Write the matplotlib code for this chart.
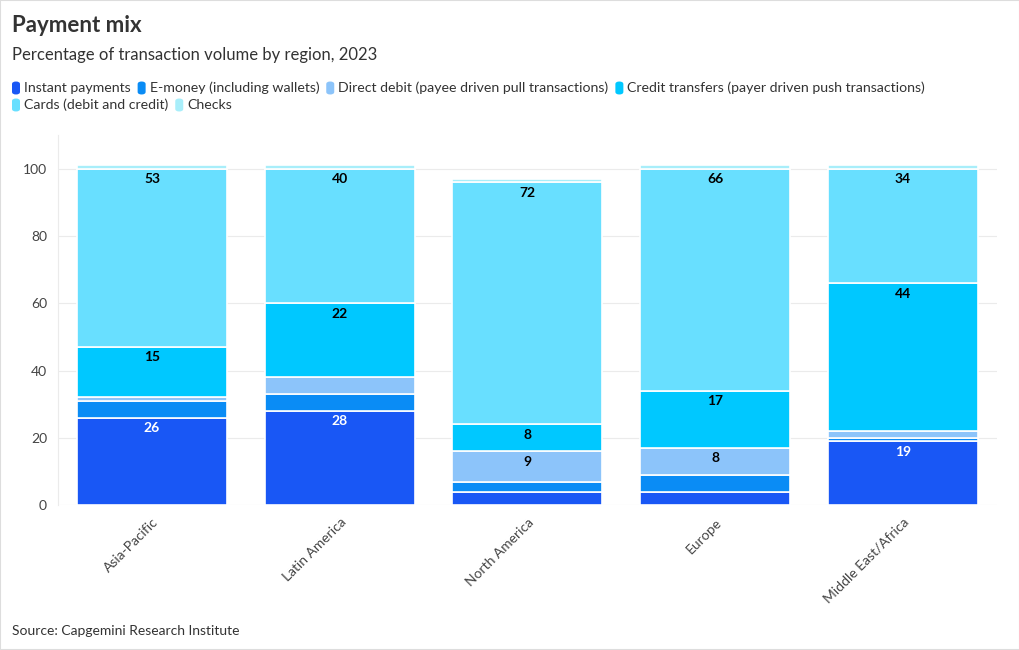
from __future__ import annotations

import numpy as np
from matplotlib import pyplot as plt
from matplotlib.patches import FancyBboxPatch, Rectangle

REGIONS = ["Asia-Pacific", "Latin America", "North America", "Europe", "Middle East/Africa"]

SERIES_NAMES = [
    "Instant payments",
    "E-money (including wallets)",
    "Direct debit (payee driven pull transactions)",
    "Credit transfers (payer driven push transactions)",
    "Cards (debit and credit)",
    "Checks",
]

INSTANT = [26, 28, 4, 4, 19]
E_MONEY = [5, 5, 3, 5, 1]
DIRECT_DEBIT = [1, 5, 9, 8, 2]
CREDIT_TRANSFERS = [15, 22, 8, 17, 44]
CARDS = [53, 40, 72, 66, 34]
CHECKS = [1, 1, 1, 1, 1]

COLORS = ["#1957F5", "#0A8CF5", "#8CC4FA", "#00C8FF", "#68DFFF", "#A8EEFA"]
LABEL_COLORS = ["white", "black", "black", "black", "black", "black"]

FONT = ["Lato", "DejaVu Sans"]


def main() -> None:
    plt.rcParams["font.family"] = FONT
    series = [INSTANT, E_MONEY, DIRECT_DEBIT, CREDIT_TRANSFERS, CARDS, CHECKS]

    fig = plt.figure(figsize=(10.2, 6.5), dpi=100)
    ax = fig.add_axes([0.057, 0.223, 0.92, 0.569])

    x = np.arange(len(REGIONS))
    bottom = np.zeros(len(REGIONS))
    for values, color, lcolor in zip(series, COLORS, LABEL_COLORS):
        vals = np.array(values, dtype=float)
        bars = ax.bar(x, vals, width=0.8, bottom=bottom, color=color,
                      edgecolor="white", linewidth=1.2, zorder=3)
        for bar, v, b in zip(bars, vals, bottom):
            if v >= 6:
                ax.annotate(f"{v:.0f}", xy=(bar.get_x() + bar.get_width() / 2, b + v),
                            xytext=(0, -7.5), textcoords="offset points",
                            ha="center", va="center", fontsize=10,
                            fontweight="bold", color=lcolor, zorder=4)
        bottom += vals

    ax.set_xlim(-0.5, len(REGIONS) - 0.5)
    ax.set_ylim(0, 110)
    ax.set_yticks([0, 20, 40, 60, 80, 100])
    ax.set_xticks(x)
    ax.set_xticklabels(REGIONS, rotation=45, ha="right", rotation_mode="anchor")
    ax.tick_params(axis="both", labelsize=10, colors="#444444", length=0)
    ax.tick_params(axis="x", pad=8)
    ax.tick_params(axis="y", pad=8)
    ax.grid(axis="y", color="#ebebeb", linewidth=0.8, zorder=0)
    for side in ["top", "right", "bottom"]:
        ax.spines[side].set_visible(False)
    ax.spines["left"].set_color("#ebebeb")
    ax.spines["left"].set_linewidth(0.8)

    fig.text(12 / 1020, 1 - 25 / 650, "Payment mix", fontsize=16, fontweight="bold",
             color="#333333", va="center")
    fig.text(12 / 1020, 1 - 55 / 650, "Percentage of transaction volume by region, 2023",
             fontsize=12, color="#333333", va="center")
    fig.text(12 / 1020, 1 - 631 / 650, "Source: Capgemini Research Institute",
             fontsize=10, color="#333333", va="center")

    # legend drawn by hand so it wraps like the original
    fig.canvas.draw()
    renderer = fig.canvas.get_renderer()
    px, py = 12, 88
    for name, color in zip(SERIES_NAMES, COLORS):
        t = fig.text(0, 0, name, fontsize=10.2, color="#333333", va="center")
        w = t.get_window_extent(renderer).width
        if px + 14 + w > 1000:
            px, py = 12, py + 17
        fig.patches.append(FancyBboxPatch(
            ((px) / 1020, 1 - (py + 6.5) / 650), 8 / 1020, 13 / 650,
            boxstyle="round,pad=0,rounding_size=0.004", transform=fig.transFigure,
            facecolor=color, edgecolor="none"))
        t.set_position(((px + 12) / 1020, 1 - py / 650))
        px += 12 + w + 7

    fig.patches.append(Rectangle((0, 0), 1, 1, transform=fig.transFigure, fill=False,
                                 edgecolor="#dddddd", linewidth=1.5))

    plt.savefig("out.png", dpi=100)


if __name__ == "__main__":
    main()
